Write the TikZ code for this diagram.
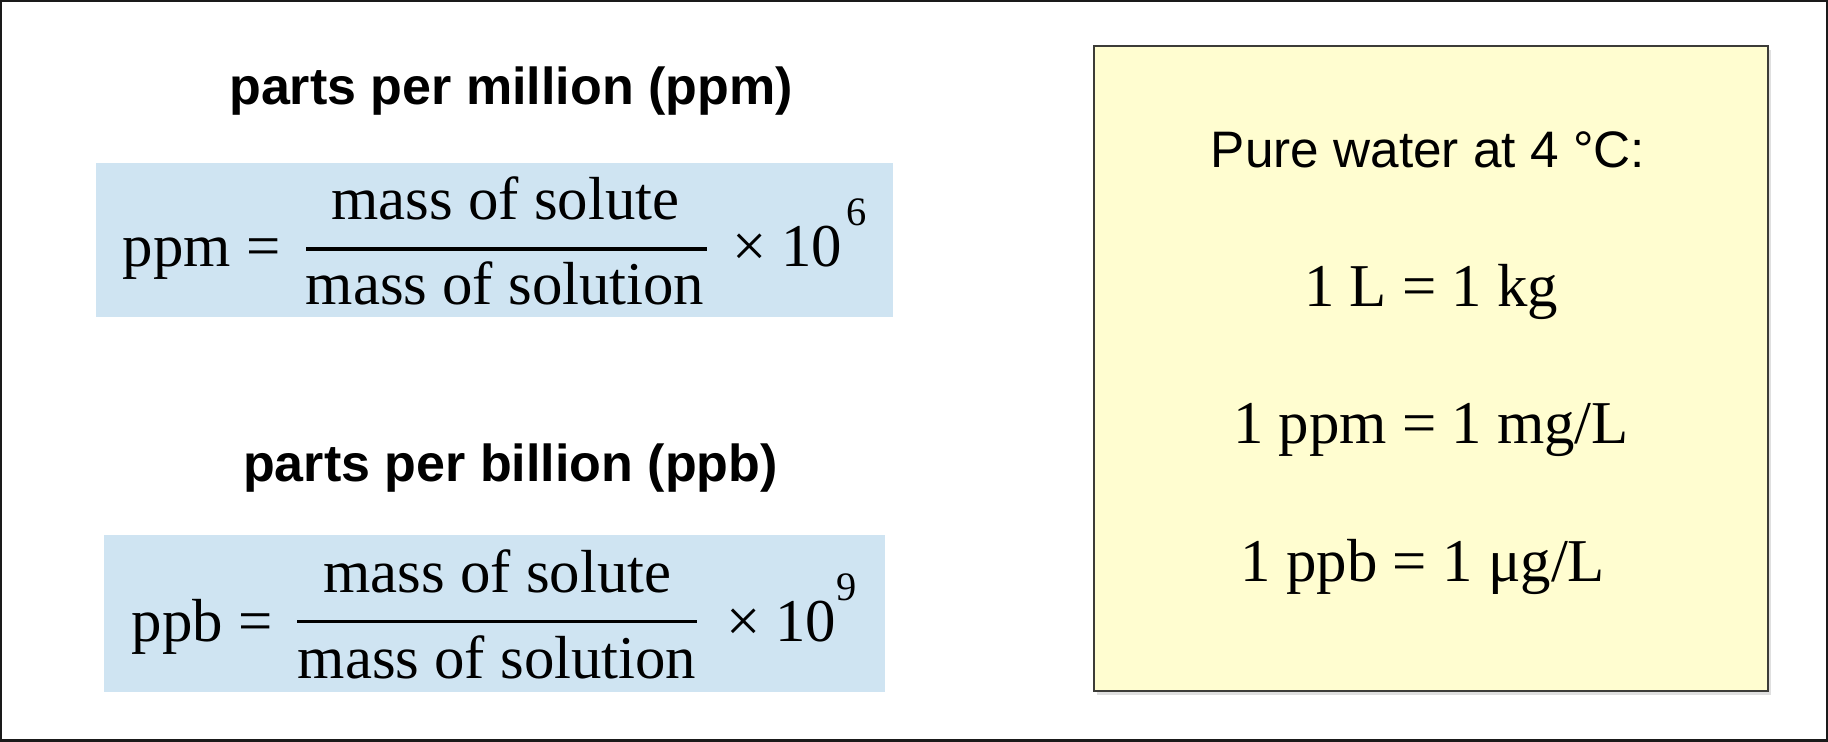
\documentclass[tikz,border=0pt]{standalone}
\usepackage{fontspec}
\setmainfont{Liberation Serif}
\setsansfont{Liberation Sans}
\usetikzlibrary{shadows}
\definecolor{boxblue}{RGB}{207,228,242}
\definecolor{noteyellow}{RGB}{255,253,208}
\definecolor{noteedge}{RGB}{60,60,56}
\definecolor{framegray}{RGB}{26,26,26}
\begin{document}
\begin{tikzpicture}[
		x=0.1mm,
		y=-0.1mm
	]
	\tikzset{
		titletext/.style = {anchor=base, inner sep=0pt, font=\sffamily\bfseries\fontsize{14.8pt}{17pt}\selectfont},
		notehead/.style = {anchor=base, inner sep=0pt, font=\sffamily\fontsize{14.6pt}{17pt}\selectfont},
		mathtext/.style = {anchor=base, inner sep=0pt, font=\fontsize{17.3pt}{20pt}\selectfont},
		powtext/.style = {anchor=base west, inner sep=0pt, font=\fontsize{11.5pt}{13pt}\selectfont},
		formulabox/.style = {fill=boxblue, draw=none},
		notebox/.style = {fill=noteyellow, draw=noteedge, line width=0.25mm,
			drop shadow={shadow xshift=0.3mm, shadow yshift=-0.4mm, opacity=0.25, fill=gray}},
		fracbar/.style = {line width=0.33mm},
	}
	\useasboundingbox (0,0) rectangle (1828,742);
	\fill[white] (0,0) rectangle (1828,742);
	\draw[line width=0.25mm, framegray] (1.25,1.25) rectangle (1826.75,740.75);
	% left column
	\node[titletext] (ppmtitle) at (511,105) {parts per million (ppm)};
	\fill[formulabox] (96,163) rectangle (893,317);
	\node[mathtext, anchor=base west] (ppmlhs) at (122,267) {ppm =};
	\node[mathtext] (ppmnum) at (505.5,220) {mass of solute};
	\node[mathtext] (ppmden) at (505,305) {mass of solution};
	\coordinate (ppmbarw) at (306,249);
	\coordinate (ppmbare) at (707,249);
	\draw[fracbar] (ppmbarw) -- (ppmbare);
	\node[mathtext, anchor=base east] (ppmtimes) at (843,267) {× 10};
	\node[powtext] (ppmexp) at (846,226) {6};
	%
	\node[titletext] (ppbtitle) at (510.5,482) {parts per billion (ppb)};
	\fill[formulabox] (104,535) rectangle (885,692);
	\node[mathtext, anchor=base west] (ppblhs) at (131,642) {ppb =};
	\node[mathtext] (ppbnum) at (497.5,593) {mass of solute};
	\node[mathtext] (ppbden) at (497,679) {mass of solution};
	\coordinate (ppbbarw) at (297,621.7);
	\coordinate (ppbbare) at (697,621.7);
	\draw[fracbar] (ppbbarw) -- (ppbbare);
	\node[mathtext, anchor=base east] (ppbtimes) at (837,642) {× 10};
	\node[powtext] (ppbexp) at (836,601) {9};
	% right note
	\draw[notebox] (1094,46) rectangle (1768,691);
	\node[notehead] (waterhead) at (1428,168) {Pure water at 4 °C:};
	\node[mathtext] (litre) at (1431,307) {1 L = 1 kg};
	\node[mathtext] (ppmeq) at (1431,444) {1 ppm = 1 mg/L};
	\node[mathtext] (ppbeq) at (1423,582) {1 ppb = 1 μg/L};
\end{tikzpicture}
\end{document}
